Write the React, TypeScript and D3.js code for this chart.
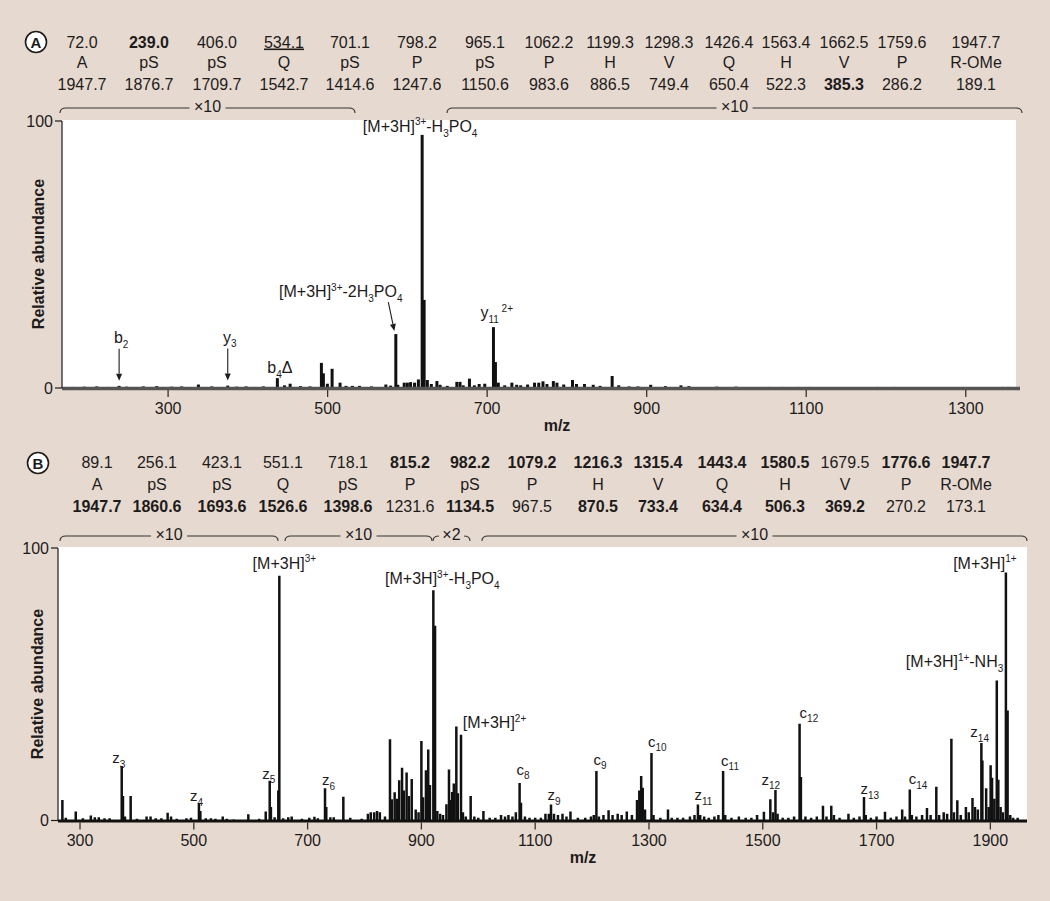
import React from "react";
import * as d3 from "d3";

const FONT = "'Liberation Sans', Arial, Helvetica, sans-serif";
const BG = "#e6dad0";
const INK = "#1e1b1b";

type Kind = "n" | "sub" | "sup";
type Part = [string, Kind];

// ---------------- Panel A data ----------------
const aTopValues = ["72.0", "239.0", "406.0", "534.1", "701.1", "798.2", "965.1", "1062.2", "1199.3", "1298.3", "1426.4", "1563.4", "1662.5", "1759.6", "1947.7"];
const aResidues = ["A", "pS", "pS", "Q", "pS", "P", "pS", "P", "H", "V", "Q", "H", "V", "P", "R-OMe"];
const aBottomValues = ["1947.7", "1876.7", "1709.7", "1542.7", "1414.6", "1247.6", "1150.6", "983.6", "886.5", "749.4", "650.4", "522.3", "385.3", "286.2", "189.1"];
const aTopBold = [1];
const aTopUnderline = [3];
const aBottomBold = [12];
const aMagnification: [number, number, string][] = [
  [164.5, 534.3, "×10"],
  [649.7, 1370.5, "×10"],
];
const aTicks = [300, 500, 700, 900, 1100, 1300];
const aPeaks: [number, number][] = [
  [180, 0.4], [195, 0.5], [210.6, 0.6], [225, 0.4], [238.6, 0.8], [248, 0.5], [269, 0.6], [285.8, 0.7],
  [304.6, 0.5], [317, 0.6], [338, 1.3], [354.8, 0.6], [374.8, 0.9], [386, 0.5], [397.8, 0.6], [408, 0.4],
  [419.5, 0.6], [437, 3.7], [446, 1.0], [453, 1.6], [466, 0.7], [478, 0.6], [492.2, 9.4], [494.7, 5.5],
  [499.7, 1.6], [505.6, 7.2], [515.6, 2.0], [523, 0.8], [531, 0.8], [540, 0.8], [555, 0.6], [573, 1.3],
  [579, 0.9], [585.5, 20.2], [588, 1.2], [596, 2.0], [600, 2.0], [604, 2.2], [609, 2.0], [613.8, 3.2],
  [618.5, 94.8], [621, 33], [625, 3.0], [630, 1.5], [637, 2.6], [641, 1.2], [650, 0.8], [662, 2.3],
  [666, 2.3], [670, 1.0], [677.8, 3.5], [684, 1.0], [690, 1.5], [697, 1.6], [707.9, 22.8], [710.4, 9.7],
  [714, 2.0], [722, 1.0], [731, 2.0], [737, 1.2], [742, 1.0], [750.7, 1.3], [759.4, 2.0], [764.7, 2.0],
  [770, 2.5], [775, 1.5], [783, 2.6], [787.5, 2.0], [796, 1.3], [807, 3.0], [812, 1.5], [822, 1.5],
  [833, 1.2], [841.6, 0.8], [856.7, 4.5], [865, 1.0], [878, 0.6], [889, 0.6], [905, 1.2], [923.5, 0.7],
  [943, 1.0], [953, 0.7], [988, 0.5], [1012, 0.5], [1053, 0.4], [1070, 0.4], [1090, 0.4], [1105, 0.4],
  [1189, 0.4], [1210, 0.4], [1346, 0.4], [1354, 0.4],
];
const aLabels: { mz: number; int: number; parts: Part[]; anchor: string; dx: number; dy: number; arrow?: [number, number, number, number] }[] = [
  { mz: 618.5, int: 94.8, parts: [["[M+3H]", "n"], ["3+", "sup"], ["-H", "n"], ["3", "sub"], ["PO", "n"], ["4", "sub"]], anchor: "middle", dx: -2, dy: -3 },
  { mz: 585.5, int: 20.2, parts: [["[M+3H]", "n"], ["3+", "sup"], ["-2H", "n"], ["3", "sub"], ["PO", "n"], ["4", "sub"]], anchor: "middle", dx: -55, dy: -37, arrow: [-7.5, -32, -1.5, -3] },
  { mz: 707.9, int: 22.8, parts: [["y", "n"], ["11", "sub"], [" 2+", "sup"]], anchor: "start", dx: -13, dy: -9 },
  { mz: 238.6, int: 0.8, parts: [["b", "n"], ["2", "sub"]], anchor: "middle", dx: 2, dy: -43, arrow: [0, -37, 0, -5] },
  { mz: 374.8, int: 0.9, parts: [["y", "n"], ["3", "sub"]], anchor: "middle", dx: 2, dy: -43, arrow: [0, -37, 0, -5] },
  { mz: 437, int: 3.7, parts: [["b", "n"], ["4", "sub"], ["Δ", "n"]], anchor: "start", dx: -10, dy: -5 },
];

// ---------------- Panel B data ----------------
const bTopValues = ["89.1", "256.1", "423.1", "551.1", "718.1", "815.2", "982.2", "1079.2", "1216.3", "1315.4", "1443.4", "1580.5", "1679.5", "1776.6", "1947.7"];
const bResidues = ["A", "pS", "pS", "Q", "pS", "P", "pS", "P", "H", "V", "Q", "H", "V", "P", "R-OMe"];
const bBottomValues = ["1947.7", "1860.6", "1693.6", "1526.6", "1398.6", "1231.6", "1134.5", "967.5", "870.5", "733.4", "634.4", "506.3", "369.2", "270.2", "173.1"];
const bTopBold = [5, 6, 7, 8, 9, 10, 11, 13, 14];
const bBottomBold = [0, 1, 2, 3, 4, 6, 8, 9, 10, 11, 12];
const bMagnification: [number, number, string][] = [
  [264.8, 648, "×10"],
  [660.3, 918.6, "×10"],
  [920.4, 985.4, "×2"],
  [1006.5, 1964.4, "×10"],
];
const bTicks = [300, 500, 700, 900, 1100, 1300, 1500, 1700, 1900];
const bPeaks: [number, number][] = [
  [269, 7.5], [275, 1.0], [292.5, 3.3], [305, 0.8], [319, 1.8], [326, 1.2], [333, 1.2], [343, 0.8], [352, 0.8],
  [373.3, 20], [375.5, 9], [379, 1.5], [389, 9], [400, 0.6], [417, 1.5], [424, 1.5], [433, 0.8], [443, 0.8],
  [454, 2.8], [460, 1.5], [470, 0.6], [487, 0.8], [495, 1], [509, 6.3], [511.5, 3.5], [521, 0.8], [530, 0.8],
  [538, 0.6], [550.8, 1.5], [558, 0.6], [570, 0.4], [595.8, 2.3], [615, 0.6], [626.4, 3.3], [633.4, 14.6],
  [635.5, 5], [642, 1.2], [648.5, 11], [650.3, 89.8], [657, 0.8], [666, 1.2], [672, 1.5], [690, 0.6], [703, 1.0],
  [712, 1.4], [718, 0.8], [730.6, 11.8], [732.8, 5], [740, 1.2], [746, 1.2], [762.8, 8.7], [775, 1.0], [795, 0.6],
  [806, 2.5], [811, 3.0], [817, 3.0], [822, 3.5], [827, 3.0], [836, 1.5], [844.8, 29.8], [848, 7.8], [853, 10.4],
  [857, 8], [861, 14.8], [866, 19.4], [869, 11], [874, 17.6], [878, 9], [883, 15.2], [890, 4], [895, 3],
  [900, 29.2], [903, 8.5], [908, 18.4], [912, 26.1], [915, 13], [921, 84.5], [924, 71.5], [928, 3.5], [933, 2.5],
  [938, 2], [944, 6], [948.5, 18.7], [951, 7.5], [954, 10.5], [957, 13.6], [961.4, 34.5], [964, 10], [969.6, 31.5],
  [973, 3], [978, 1.5], [986.6, 9], [993, 1.5], [1000, 1], [1009, 3.5], [1020, 1], [1030, 1], [1040, 2], [1047, 1.5],
  [1053, 2], [1060, 1.5], [1066, 3], [1072.6, 13.8], [1075, 6.5], [1082, 1.5], [1090, 1], [1100, 1], [1110, 1],
  [1118, 2.5], [1124, 2.5], [1127.8, 5.9], [1133, 2.5], [1140, 2], [1148, 2.5], [1155, 1.5], [1162, 3.3], [1175, 1],
  [1188, 1], [1198, 1.5], [1203, 2], [1207.6, 18.2], [1212, 1.5], [1220, 2], [1229, 3.8], [1236, 2], [1245, 2.5],
  [1252, 2], [1261, 3.3], [1270, 2], [1279, 7.5], [1283, 11], [1286.3, 16.3], [1289, 12], [1293, 4], [1304.4, 24.8],
  [1308, 2], [1320, 1], [1333.4, 4], [1340, 1], [1350, 1], [1360, 1], [1372, 1.5], [1380, 2], [1386, 5.9], [1390, 2],
  [1397, 1.5], [1405, 1], [1415, 1.5], [1422, 2], [1430.3, 18.2], [1434, 2], [1445, 1], [1458, 1.5], [1470, 1],
  [1480, 1], [1490, 2], [1502, 3.2], [1513.3, 7.8], [1518, 3], [1522.3, 11.2], [1526, 2.5], [1535, 1], [1545, 1],
  [1555, 1.5], [1564.7, 35.5], [1567, 16], [1575, 1.5], [1585, 1], [1595, 1.5], [1605.8, 5.4], [1612, 1.5],
  [1620.4, 5.4], [1625, 2], [1635, 1], [1650.6, 2.5], [1660, 1], [1670, 1.5], [1677.9, 8.6], [1681, 2], [1690, 1],
  [1700, 1.5], [1714.8, 3.2], [1725, 1], [1735, 1.5], [1745, 4], [1750, 1.5], [1758.4, 11.4], [1762, 2], [1770, 1.5],
  [1780, 2], [1788.6, 4.6], [1795, 2], [1805, 12.4], [1810, 2], [1818, 3], [1824, 2.5], [1831.5, 30], [1836, 3],
  [1841.9, 7.4], [1848, 2], [1857, 5], [1862, 3], [1868.6, 8.3], [1873, 5], [1878, 4], [1884.2, 28.4], [1886, 22],
  [1892.6, 11.8], [1897, 5], [1900.5, 20.3], [1903, 15.7], [1907, 8], [1911.3, 51.4], [1914, 15], [1918, 5],
  [1922, 3], [1927.3, 91], [1930.3, 40.4], [1935, 2], [1940, 1], [1948, 1],
];
const cz = (l: string, n: string): Part[] => [[l, "n"], [n, "sub"]];
const bLabels: { mz: number; int: number; parts: Part[]; anchor: string; dx: number; dy: number; size?: number }[] = [
  { mz: 650.3, int: 89.8, parts: [["[M+3H]", "n"], ["3+", "sup"]], anchor: "middle", dx: 5, dy: -7 },
  { mz: 921, int: 84.5, parts: [["[M+3H]", "n"], ["3+", "sup"], ["-H", "n"], ["3", "sub"], ["PO", "n"], ["4", "sub"]], anchor: "middle", dx: 9, dy: -6 },
  { mz: 961.4, int: 34.5, parts: [["[M+3H]", "n"], ["2+", "sup"]], anchor: "start", dx: 6.5, dy: 2 },
  { mz: 1927.3, int: 91, parts: [["[M+3H]", "n"], ["1+", "sup"]], anchor: "middle", dx: -21, dy: -4 },
  { mz: 1911.3, int: 51.4, parts: [["[M+3H]", "n"], ["1+", "sup"], ["-NH", "n"], ["3", "sub"]], anchor: "end", dx: 6.5, dy: -13 },
  { mz: 373.3, int: 20, parts: cz("z", "3"), anchor: "start", dx: -9.5, dy: -3, size: 15 },
  { mz: 509, int: 6.3, parts: cz("z", "4"), anchor: "start", dx: -9, dy: -2, size: 15 },
  { mz: 633.4, int: 14.6, parts: cz("z", "5"), anchor: "start", dx: -7.5, dy: -2, size: 15 },
  { mz: 730.6, int: 11.8, parts: cz("z", "6"), anchor: "start", dx: -3, dy: -3, size: 15 },
  { mz: 1072.6, int: 13.8, parts: cz("c", "8"), anchor: "start", dx: -3, dy: -8, size: 15 },
  { mz: 1127.8, int: 5.9, parts: cz("z", "9"), anchor: "start", dx: -3.5, dy: -4, size: 15 },
  { mz: 1207.6, int: 18.2, parts: cz("c", "9"), anchor: "start", dx: -3, dy: -6, size: 15 },
  { mz: 1304.4, int: 24.8, parts: cz("c", "10"), anchor: "start", dx: -3.5, dy: -6, size: 15 },
  { mz: 1386, int: 5.9, parts: cz("z", "11"), anchor: "start", dx: -3.5, dy: -4, size: 15 },
  { mz: 1430.3, int: 18.2, parts: cz("c", "11"), anchor: "start", dx: -2, dy: -5, size: 15 },
  { mz: 1522.3, int: 11.2, parts: cz("z", "12"), anchor: "start", dx: -14, dy: -5, size: 15 },
  { mz: 1564.7, int: 35.5, parts: cz("c", "12"), anchor: "start", dx: 0, dy: -6, size: 15 },
  { mz: 1677.9, int: 8.6, parts: cz("z", "13"), anchor: "start", dx: -3.5, dy: -3, size: 15 },
  { mz: 1758.4, int: 11.4, parts: cz("c", "14"), anchor: "start", dx: -1, dy: -5, size: 15 },
  { mz: 1884.2, int: 28.4, parts: cz("z", "14"), anchor: "start", dx: -11, dy: -6, size: 15 },
];

// ---------------- layout (not data) ----------------
const aColX = [82, 149, 217, 284, 350, 417, 485, 549, 610, 669, 729, 786, 844, 902, 976];
const bColX = [97, 157, 222, 283, 348, 410, 470, 532, 598, 658, 722, 785, 845, 906, 966];

function Rich({ x, y, parts, anchor = "start", size = 16 }: { x: number; y: number; parts: Part[]; anchor?: string; size?: number }) {
  let cur = 0;
  const ss = Math.round(size * 0.64);
  return (
    <text x={x} y={y} textAnchor={anchor as any} fontSize={size} fontFamily={FONT} fill={INK}>
      {parts.map(([t, k], i) => {
        const target = k === "sub" ? size * 0.3 : k === "sup" ? -size * 0.4 : 0;
        const dy = target - cur;
        cur = target;
        return (
          <tspan key={i} dy={dy} fontSize={k === "n" ? size : ss}>
            {t}
          </tspan>
        );
      })}
    </text>
  );
}

function Arrow({ x1, y1, x2, y2 }: { x1: number; y1: number; x2: number; y2: number }) {
  const ang = Math.atan2(y2 - y1, x2 - x1);
  const L = 7, W = 3;
  const bx = x2 - L * Math.cos(ang), by = y2 - L * Math.sin(ang);
  const px = -Math.sin(ang) * W, py = Math.cos(ang) * W;
  return (
    <g>
      <line x1={x1} y1={y1} x2={bx} y2={by} stroke={INK} strokeWidth={1.1} />
      <path d={`M${x2},${y2} L${bx + px},${by + py} L${bx - px},${by - py} Z`} fill={INK} />
    </g>
  );
}

type PanelProps = {
  letter: string;
  circle: [number, number];
  top: string[]; res: string[]; bottom: string[];
  topBold: number[]; bottomBold: number[]; topUnderline: number[];
  colX: number[]; rowY: [number, number, number];
  mags: [number, number, string][]; braceY: number;
  peaks: [number, number][];
  labels: any[];
  domain: [number, number];
  left: number; right: number; plotTop: number; y100: number; y0: number;
  ticks: number[]; tickLabelY: number; mzPos: [number, number]; relY: number; relX: number;
  axisColor: string; axisWidth: number; axisRight: number; peakWidth: number;
};

function Panel(p: PanelProps) {
  const x = d3.scaleLinear().domain(p.domain).range([p.left, p.right]);
  const y = d3.scaleLinear().domain([0, 100]).range([p.y0, p.y100]);
  const clipId = "clip" + p.letter;
  return (
    <g>
      {/* Panel letter */}
      <circle cx={p.circle[0]} cy={p.circle[1]} r={10.5} fill="#fff" stroke={INK} strokeWidth={1.6} />
      <text x={p.circle[0]} y={p.circle[1] + 5.5} textAnchor="middle" fontSize={15} fontWeight="bold" fontFamily={FONT} fill={INK}>
        {p.letter}
      </text>
      {/* Sequence table */}
      {p.colX.map((cx, i) => (
        <g key={i}>
          <text x={cx} y={p.rowY[0]} textAnchor="middle" fontSize={16} fontFamily={FONT} fill={INK}
            fontWeight={p.topBold.includes(i) ? "bold" : "normal"}
            style={p.topUnderline.includes(i) ? { textDecoration: "underline" } : undefined}>
            {p.top[i]}
          </text>
          <text x={cx} y={p.rowY[1]} textAnchor="middle" fontSize={16} fontFamily={FONT} fill={INK}>
            {p.res[i]}
          </text>
          <text x={cx} y={p.rowY[2]} textAnchor="middle" fontSize={16} fontFamily={FONT} fill={INK}
            fontWeight={p.bottomBold.includes(i) ? "bold" : "normal"}>
            {p.bottom[i]}
          </text>
        </g>
      ))}
      {/* Magnification braces */}
      {p.mags.map(([a, b, lab], i) => {
        const x0 = x(a), x1 = x(b), cx = (x0 + x1) / 2;
        const hw = lab.length * 5 + 3;
        const yy = p.braceY;
        return (
          <g key={i}>
            <path d={`M${x0},${yy + 5} Q${x0},${yy} ${x0 + 6},${yy} L${cx - hw},${yy} M${cx + hw},${yy} L${x1 - 6},${yy} Q${x1},${yy} ${x1},${yy + 5}`}
              fill="none" stroke="#333" strokeWidth={1.1} />
            <text x={cx} y={yy + 4} textAnchor="middle" fontSize={16} fontFamily={FONT} fill={INK}>{lab}</text>
          </g>
        );
      })}
      {/* Plot area */}
      <rect x={p.left} y={p.plotTop} width={p.right - p.left} height={p.y0 - p.plotTop} fill="#fff" />
      <clipPath id={clipId}>
        <rect x={p.left} y={p.plotTop - 30} width={p.right - p.left + 12} height={p.y0 - p.plotTop + 30} />
      </clipPath>
      <g clipPath={`url(#${clipId})`}>
        {p.peaks.map(([mz, v], i) => (
          <line key={i} x1={x(mz)} x2={x(mz)} y1={p.y0} y2={y(v)} stroke="#111" strokeWidth={p.peakWidth} />
        ))}
      </g>
      {/* x axis */}
      <line x1={p.left} x2={p.axisRight} y1={p.y0 + 0.5} y2={p.y0 + 0.5} stroke={p.axisColor} strokeWidth={p.axisWidth} />
      {p.ticks.map((t) => (
        <g key={t}>
          <line x1={x(t)} x2={x(t)} y1={p.y0 + 2} y2={p.y0 + 9} stroke="#333" strokeWidth={1.3} />
          <text x={x(t)} y={p.tickLabelY} textAnchor="middle" fontSize={16} fontFamily={FONT} fill={INK}>{t}</text>
        </g>
      ))}
      <text x={p.mzPos[0]} y={p.mzPos[1]} textAnchor="middle" fontSize={16} fontWeight="bold" fontFamily={FONT} fill={INK}>m/z</text>
      {/* y axis */}
      <line x1={p.left} x2={p.left} y1={p.y100} y2={p.y0} stroke={INK} strokeWidth={1.2} />
      {[0, 100].map((v) => (
        <g key={v}>
          <line x1={p.left - 7} x2={p.left} y1={y(v)} y2={y(v)} stroke={INK} strokeWidth={1.2} />
          <text x={p.left - 9} y={y(v) + 5.5} textAnchor="end" fontSize={16} fontFamily={FONT} fill={INK}>{v}</text>
        </g>
      ))}
      <text transform={`translate(${p.relX},${p.relY}) rotate(-90)`} textAnchor="middle" fontSize={16} fontWeight="bold" fontFamily={FONT} fill={INK}>
        Relative abundance
      </text>
      {/* annotations */}
      {p.labels.map((l, i) => {
        const px = x(l.mz), py = y(l.int);
        return (
          <g key={i}>
            <Rich x={px + l.dx} y={py + l.dy} parts={l.parts} anchor={l.anchor} size={l.size ?? 16} />
            {l.arrow && <Arrow x1={px + l.arrow[0]} y1={py + l.arrow[1]} x2={px + l.arrow[2]} y2={py + l.arrow[3]} />}
          </g>
        );
      })}
    </g>
  );
}

export default function App() {
  return (
    <svg width={1050} height={901} style={{ position: "absolute", left: 0, top: 0 }} xmlns="http://www.w3.org/2000/svg">
      <rect x={0} y={0} width={1050} height={901} fill={BG} />
      <Panel
        letter="A" circle={[36, 42]}
        top={aTopValues} res={aResidues} bottom={aBottomValues}
        topBold={aTopBold} bottomBold={aBottomBold} topUnderline={aTopUnderline}
        colX={aColX} rowY={[47.5, 68, 89.5]}
        mags={aMagnification} braceY={108}
        peaks={aPeaks} labels={aLabels}
        domain={[167, 1363]} left={62} right={1016} plotTop={120} y100={121} y0={388}
        ticks={aTicks} tickLabelY={414} mzPos={[557, 431]} relX={44} relY={254}
        axisColor="#555" axisWidth={3.5} axisRight={1020} peakWidth={3}
      />
      <Panel
        letter="B" circle={[38, 463]}
        top={bTopValues} res={bResidues} bottom={bBottomValues}
        topBold={bTopBold} bottomBold={bBottomBold} topUnderline={[]}
        colX={bColX} rowY={[467.5, 489.5, 511.5]}
        mags={bMagnification} braceY={536}
        peaks={bPeaks} labels={bLabels}
        domain={[261.3, 1964.4]} left={58} right={1027} plotTop={547} y100={548} y0={820.5}
        ticks={bTicks} tickLabelY={846} mzPos={[583, 863]} relX={43} relY={684}
        axisColor="#111" axisWidth={3} axisRight={1027} peakWidth={2.5}
      />
    </svg>
  );
}
